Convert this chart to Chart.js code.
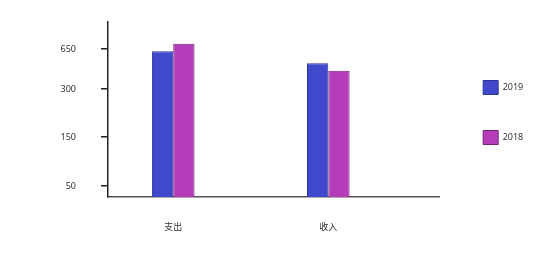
<!DOCTYPE html>
<html lang="zh">
<head>
    <meta charset="UTF-8">
    <title>支出 / 收入</title>
    <script src="https://cdn.jsdelivr.net/npm/chart.js"></script>
    <style>
        html, body { margin: 0; padding: 0; background: #fff; }
        #wrap { width: 554px; height: 263px; }
    </style>
</head>
<body>
    <div id="wrap"><canvas id="chart" width="554" height="263"></canvas></div>

    <script>
        // data
        const categories = ["支出", "收入"];
        const seriesNames = ["2019", "2018"];
        const values2019 = [630, 525];
        const values2018 = [695, 460];
        const yTickValues = [50, 150, 300, 650];

        // the value axis is not linear: ticks are spread out evenly-ish,
        // so map values piecewise between these knots (value -> fraction of height)
        const knotValues = [0, 50, 150, 300, 650, 880];
        const knotFracs = [0, 0.063, 0.343, 0.617, 0.846, 1];

        function toFrac(v) {
            for (let i = 1; i < knotValues.length; i++) {
                if (v <= knotValues[i]) {
                    const t = (v - knotValues[i - 1]) / (knotValues[i] - knotValues[i - 1]);
                    return knotFracs[i - 1] + t * (knotFracs[i] - knotFracs[i - 1]);
                }
            }
            return 1;
        }
        function fromFrac(f) {
            for (let i = 1; i < knotFracs.length; i++) {
                if (f <= knotFracs[i]) {
                    const t = (f - knotFracs[i - 1]) / (knotFracs[i] - knotFracs[i - 1]);
                    return knotValues[i - 1] + t * (knotValues[i] - knotValues[i - 1]);
                }
            }
            return knotValues[knotValues.length - 1];
        }

        class PiecewiseScale extends Chart.LinearScale {
            static id = "piecewise";
            static defaults = Chart.LinearScale.defaults;
            buildTicks() {
                return yTickValues.map(v => ({ value: v }));
            }
            getPixelForValue(v) {
                return this.getPixelForDecimal(toFrac(v));
            }
            getValueForPixel(p) {
                return fromFrac(this.getDecimalForPixel(p));
            }
        }
        Chart.register(PiecewiseScale);

        const font = { family: "'Noto Sans', 'Noto Sans CJK SC', sans-serif", size: 9 };

        new Chart(document.getElementById("chart").getContext("2d"), {
            type: "bar",
            data: {
                datasets: [
                    {
                        label: seriesNames[0],
                        data: values2019.map((v, i) => ({ x: i, y: v })),
                        backgroundColor: "#4048cc",
                        borderColor: "#2d3398",
                        borderWidth: 1
                    },
                    {
                        label: seriesNames[1],
                        data: values2018.map((v, i) => ({ x: i, y: v })),
                        backgroundColor: "#b43cb9",
                        borderColor: "#6e2472",
                        borderWidth: 1
                    }
                ]
            },
            options: {
                responsive: false,
                animation: false,
                categoryPercentage: 0.275,
                barPercentage: 1,
                layout: { padding: { left: 58, right: 29, top: 22, bottom: 26 } },
                scales: {
                    x: {
                        type: "linear",
                        offset: false,
                        min: -0.4207,
                        max: 1.715,
                        grid: { display: false, drawTicks: false, offset: false },
                        border: { display: true, color: "#555", width: 1.5 },
                        afterBuildTicks: s => { s.ticks = categories.map((c, i) => ({ value: i })); },
                        afterFit: s => { s.height = 40; s.paddingLeft = 0; s.paddingRight = 0; },
                        ticks: {
                            padding: 25,
                            color: "#333",
                            font: font,
                            autoSkip: false,
                            maxRotation: 0,
                            callback: v => categories[v]
                        }
                    },
                    y: {
                        type: "piecewise",
                        min: 0,
                        max: 880,
                        grid: { display: true, drawOnChartArea: false, drawTicks: true, tickLength: 7, color: "#222", lineWidth: 1.5 },
                        border: { display: true, color: "#222", width: 1.5 },
                        afterFit: s => { s.width = 50; s.paddingTop = 0; s.paddingBottom = 0; },
                        ticks: {
                            padding: 25,
                            color: "#333",
                            font: font,
                            callback: v => String(v)
                        }
                    },
                    // empty spacer so the legend sits a little away from the plot
                    gap: {
                        position: "right",
                        display: true,
                        grid: { display: false, drawTicks: false },
                        border: { display: false },
                        ticks: { display: false },
                        afterFit: s => { s.width = 8; s.paddingTop = 0; s.paddingBottom = 0; }
                    }
                },
                plugins: {
                    legend: {
                        position: "right",
                        fullSize: false,
                        // blank title just nudges the items down a few px
                        title: { display: true, text: " ", padding: 0, font: { size: 5, lineHeight: 1.2 } },
                        labels: {
                            boxWidth: 15,
                            boxHeight: 14,
                            padding: 36,
                            color: "#333",
                            font: font
                        }
                    },
                    tooltip: { enabled: false }
                }
            }
        });
    </script>
</body>
</html>
